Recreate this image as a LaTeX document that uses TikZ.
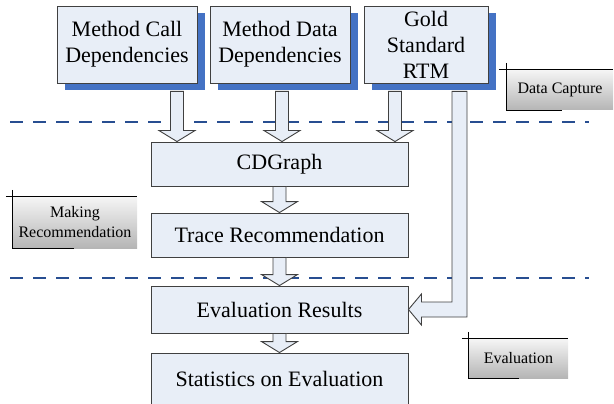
\documentclass[tikz,border=0pt]{standalone}
\usepackage{fontspec}
\setmainfont{Liberation Serif}
\usetikzlibrary{calc,shadows}
\definecolor{boxfill}{RGB}{232,238,247}
\definecolor{boxline}{RGB}{64,64,64}
\definecolor{shadowblue}{RGB}{68,114,196}
\definecolor{dashblue}{RGB}{40,78,145}
\tikzset{
  mainbox/.style={draw=boxline, line width=0.9pt, fill=boxfill, align=center,
    font=\fontsize{22}{26}\selectfont, inner sep=0pt},
  topbox/.style={mainbox, minimum height=77pt,
    drop shadow={shadow xshift=8pt, shadow yshift=-7pt, fill=shadowblue, opacity=1}},
  midbox/.style={mainbox, minimum width=257pt},
  blockarrow/.style={draw=boxline, line width=0.9pt, fill=boxfill, line join=miter},
  sepline/.style={draw=dashblue, line width=2pt, dash pattern=on 13pt off 10pt},
  phasebox/.style={top color=gray!8, bottom color=gray!58, align=center,
    font=\fontsize{16}{20}\selectfont, inner sep=0pt},
  phaseline/.style={draw=black, line width=0.9pt}
}
\newcommand\blockdown[2]{%
  \draw[blockarrow] let \p1=(#1), \p2=(#2) in
   (\x1-6.5pt,\y1) -- (\x1+6.5pt,\y1) -- (\x1+6.5pt,\y2+11pt) -- (\x1+18pt,\y2+11pt)
   -- (\x1,\y2) -- (\x1-18pt,\y2+11pt) -- (\x1-6.5pt,\y2+11pt) -- cycle;}
\begin{document}
\begin{tikzpicture}[x=1pt,y=-1pt]
\useasboundingbox (0,0) rectangle (614,404);
\clip (0,0) rectangle (614,404);
% separators
\draw[sepline] (10,122) -- (589,122);
\draw[sepline] (10,278) -- (589,278);
% top boxes
\node[topbox, minimum width=140pt] (b1) at (127,44.5) {Method Call\\Dependencies};
\node[topbox, minimum width=140pt] (b2) at (280,44.5) {Method Data\\Dependencies};
\node[topbox, minimum width=124pt] (b3) at (426,44.5) {Gold\\Standard\\RTM};
% middle boxes
\node[midbox, minimum height=44pt] (cd) at (279.5,164) {CDGraph};
\node[midbox, minimum height=44pt] (tr) at (279.5,235) {Trace Recommendation};
\node[midbox, minimum height=47pt] (ev) at (279.5,309.5) {Evaluation Results};
\node[midbox, minimum height=52pt] (st) at (279.5,379) {Statistics on Evaluation};
% arrow start points
\coordinate (a1) at ($(b1.south)+(50,8)$);
\coordinate (a2) at ($(b2.south)+(2,8)$);
\coordinate (a3) at ($(b3.south)+(-31,8)$);
\blockdown{a1}{cd.north}
\blockdown{a2}{cd.north}
\blockdown{a3}{cd.north}
\blockdown{cd.south}{tr.north}
\blockdown{tr.south}{ev.north}
\blockdown{ev.south}{st.north}
% L-shaped arrow from RTM to Evaluation Results
\draw[blockarrow] let \p1=(b3.south), \p2=(ev.east) in
  (\x1+26pt,\y1-8pt) -- (\x1+41pt,\y1-8pt) -- (\x1+41pt,\y2-7.5pt)
  -- (\x2+13pt,\y2-7.5pt) -- (\x2+13pt,\y2-15.5pt) -- (\x2,\y2)
  -- (\x2+13pt,\y2+15.5pt) -- (\x2+13pt,\y2+7.5pt) -- (\x1+26pt,\y2+7.5pt) -- cycle;
% phase labels
\node[phasebox, minimum width=106pt, minimum height=40pt] (dc) at (560,90) {Data Capture};
\draw[phaseline] ($(dc.north west)+(-8,0)$) -- (dc.north east);
\draw[phaseline] ($(dc.north west)+(0,-7)$) -- (dc.south west) -- ($(dc.south west)+(55,0)$);
\node[phasebox, minimum width=124pt, minimum height=51pt] (mr) at (75,222.5) {Making\\Recommendation};
\draw[phaseline] ($(mr.north west)+(-7,0)$) -- (mr.north east);
\draw[phaseline] ($(mr.north west)+(0,-7)$) -- (mr.south west) -- ($(mr.south west)+(61,0)$);
\node[phasebox, minimum width=99pt, minimum height=39pt] (evl) at (518.5,358.5) {Evaluation};
\draw[phaseline] ($(evl.north west)+(-7,0)$) -- (evl.north east);
\draw[phaseline] ($(evl.north west)+(0,-7)$) -- (evl.south west) -- ($(evl.south west)+(50,0)$);
\end{tikzpicture}
\end{document}
